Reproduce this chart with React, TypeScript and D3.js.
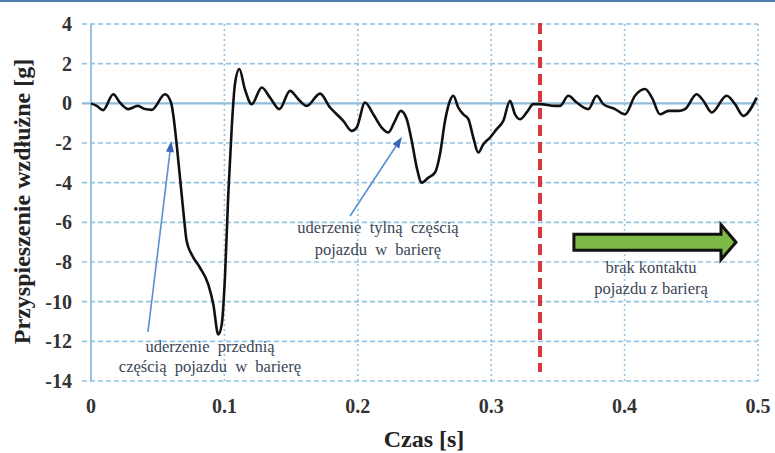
import React from "react";
import * as d3 from "d3";

const W = 775;
const H = 453;

// Curve: time [s]
const times = [
  0, 0.0043, 0.009, 0.0167, 0.0217, 0.028, 0.035, 0.0405, 0.0455, 0.0555, 0.06, 0.0617, 0.0642,
  0.0667, 0.0692, 0.0717, 0.0755, 0.0817, 0.0879, 0.0917, 0.0954, 0.098, 0.1004, 0.1029, 0.1055,
  0.1079, 0.1112, 0.1154, 0.1205, 0.128, 0.1342, 0.1412, 0.1492, 0.1554, 0.1617, 0.1717, 0.1792,
  0.1842, 0.1891, 0.1954, 0.1992, 0.2054, 0.2116, 0.2179, 0.2229, 0.2279, 0.2322, 0.2367, 0.2404,
  0.2442, 0.2479, 0.2528, 0.2579, 0.2616, 0.2654, 0.2691, 0.2716, 0.2753, 0.2791, 0.2829, 0.2866,
  0.2903, 0.2941, 0.2991, 0.3041, 0.3091, 0.3141, 0.3178, 0.3216, 0.3266, 0.3316, 0.3366, 0.3478,
  0.3516, 0.3578, 0.3641, 0.3728, 0.3791, 0.384, 0.3928, 0.4003, 0.4078, 0.4153, 0.4205, 0.4265,
  0.4328, 0.4403, 0.4453, 0.454, 0.459, 0.4653, 0.4765, 0.4828, 0.489, 0.499,
];
// Curve: longitudinal acceleration [g]
const accel = [
  0, -0.13, -0.34, 0.46, 0.04, -0.29, -0.13, -0.29, -0.33, 0.46, 0.04, -0.6, -2.06,
  -3.75, -5.43, -6.94, -7.62, -8.29, -9.13, -10.14, -11.65, -11.15, -8.8, -4.59, -1.22,
  0.97, 1.73, 0.7, -0.04, 0.8, 0.29, -0.29, 0.63, 0.21, -0.13, 0.49, -0.21,
  -0.55, -0.88, -1.39, -1.22, 0.04, -0.55, -1.22, -1.47, -0.88, -0.38, -0.8, -1.89,
  -3.24, -4.0, -3.75, -3.49, -2.57, -0.88, 0.13, 0.38, -0.21, -0.55, -0.8, -1.73,
  -2.48, -2.06, -1.73, -1.3, -0.88, 0.13, -0.55, -0.8, -0.46, -0.04, -0.04, -0.13,
  -0.13, 0.38, 0.04, -0.29, 0.38, -0.04, -0.29, -0.55, 0.38, 0.72, 0.29, -0.55,
  -0.38, -0.38, -0.29, 0.46, 0.13, -0.46, 0.38, -0.04, -0.63, 0.29,
];

const xTicks = [0, 0.1, 0.2, 0.3, 0.4, 0.5];
const yTicks = [4, 2, 0, -2, -4, -6, -8, -10, -12, -14];

const contactEnd = 0.3366; // red dashed line

// annotation texts: [center t, baseline g, text]
const noteFront = ["uderzenie  przednią", "częścią  pojazdu  w  barierę"];
const noteRear = ["uderzenie  tylną  częścią", "pojazdu  w  barierę"];
const noteNone = ["brak kontaktu", "pojazdu z barierą"];
const noteFrontPos = [0.0892, -12.54, -13.55];
const noteRearPos = [0.2151, -6.54, -7.65];
const noteNonePos = [0.4198, -8.56, -9.62];
// blue arrows: [t0, g0, t1, g1]
const arrowFront = [0.0427, -11.53, 0.0602, -1.9];
const arrowRear = [0.1942, -5.68, 0.2331, -1.7];
// green arrow: [t0, t1, g]
const greenArrow = [0.362, 0.4835, -7];

export default function App() {
  const x = d3.scaleLinear().domain([0, 0.5]).range([91, 758]);
  const y = d3.scaleLinear().domain([-14, 4]).range([381, 24]);

  const pts: [number, number][] = times.map((t, i) => [t, accel[i]]);
  const line = d3
    .line<[number, number]>()
    .x((d) => x(d[0]))
    .y((d) => y(d[1]))
    .curve(d3.curveMonotoneX);

  const gridColor = "#93c5e3";
  const serif = "'Liberation Serif', 'Times New Roman', serif";
  const noteColor = "#3a4656";

  const blueArrow = (a: number[], key: string) => {
    const x0 = x(a[0]), y0 = y(a[1]), x1 = x(a[2]), y1 = y(a[3]);
    const ang = Math.atan2(y1 - y0, x1 - x0);
    const L = 11, hw = 4;
    const bx = x1 - L * Math.cos(ang), by = y1 - L * Math.sin(ang);
    const px = -Math.sin(ang) * hw, py = Math.cos(ang) * hw;
    return (
      <g key={key}>
        <line x1={x0} y1={y0} x2={bx} y2={by} stroke="#5a8fd0" strokeWidth={1.6} />
        <polygon
          points={`${x1},${y1} ${bx + px},${by + py} ${bx - px},${by - py}`}
          fill="#3d63b8"
        />
      </g>
    );
  };

  const gx0 = x(greenArrow[0]), gx1 = x(greenArrow[1]), gy = y(greenArrow[2]);
  const headL = 15, shaftH = 8, headH = 17.5;
  const greenPts = [
    [gx0, gy - shaftH],
    [gx1 - headL, gy - shaftH],
    [gx1 - headL, gy - headH],
    [gx1, gy],
    [gx1 - headL, gy + headH],
    [gx1 - headL, gy + shaftH],
    [gx0, gy + shaftH],
  ]
    .map((p) => p.join(","))
    .join(" ");

  const note = (lines: string[], pos: number[], key: string) => (
    <g key={key}>
      {lines.map((s, i) => (
        <text
          key={i}
          x={x(pos[0])}
          y={y(pos[1 + i])}
          textAnchor="middle"
          fontFamily={serif}
          fontSize={16.5}
          fill={noteColor}
          style={{ whiteSpace: "pre" }}
        >
          {s}
        </text>
      ))}
    </g>
  );

  return (
    <svg
      width={W}
      height={H}
      style={{ position: "absolute", left: 0, top: 0, background: "#fff" }}
    >
      <rect x={0} y={0} width={W} height={H} fill="#fff" />
      <rect x={0} y={0} width={W} height={2} fill="#4d7cae" />

      {/* horizontal grid */}
      {yTicks
        .filter((v) => v !== 0)
        .map((v) => (
          <line
            key={"h" + v}
            x1={x(0) - 9}
            x2={x(0.5)}
            y1={y(v)}
            y2={y(v)}
            stroke={gridColor}
            strokeWidth={1.6}
            strokeDasharray="5 3"
          />
        ))}
      {/* vertical grid */}
      {xTicks
        .filter((v) => v !== 0)
        .map((v) => (
          <line
            key={"v" + v}
            x1={x(v)}
            x2={x(v)}
            y1={y(4)}
            y2={y(-14)}
            stroke={gridColor}
            strokeWidth={1.6}
            strokeDasharray="2 3"
          />
        ))}
      {/* axes */}
      <line x1={x(0)} x2={x(0)} y1={y(4)} y2={y(-14)} stroke="#8fbcdb" strokeWidth={1.8} />
      <line x1={x(0) - 9} x2={x(0.5)} y1={y(0)} y2={y(0)} stroke="#8fbcdb" strokeWidth={2.2} />

      {/* tick labels */}
      {yTicks.map((v) => (
        <text
          key={"yl" + v}
          x={72}
          y={y(v)}
          dy="0.35em"
          textAnchor="end"
          fontFamily={serif}
          fontWeight="bold"
          fontSize={20}
          fill="#333"
        >
          {v}
        </text>
      ))}
      {xTicks.map((v) => (
        <text
          key={"xl" + v}
          x={x(v)}
          y={413}
          textAnchor="middle"
          fontFamily={serif}
          fontWeight="bold"
          fontSize={20}
          fill="#333"
        >
          {v === 0 ? "0" : v.toFixed(1)}
        </text>
      ))}

      {/* axis titles */}
      <text
        transform={`translate(30, ${(58 + 345) / 2}) rotate(-90)`}
        textAnchor="middle"
        fontFamily={serif}
        fontWeight="bold"
        fontSize={24}
        fill="#222"
      >
        Przyspieszenie wzdłużne [g]
      </text>
      <text
        x={424}
        y={447}
        textAnchor="middle"
        fontFamily={serif}
        fontWeight="bold"
        fontSize={24}
        fill="#222"
      >
        Czas [s]
      </text>

      {/* red dashed line: end of contact */}
      <line
        x1={x(contactEnd)}
        x2={x(contactEnd)}
        y1={y(4) - 1}
        y2={y(-13.55)}
        stroke="#d8383c"
        strokeWidth={4}
        strokeDasharray="11 6"
      />

      {/* curve */}
      <path d={line(pts) || ""} fill="none" stroke="#111" strokeWidth={2.6} strokeLinejoin="round" />

      {/* annotations */}
      {blueArrow(arrowFront, "a1")}
      {blueArrow(arrowRear, "a2")}
      {note(noteFront, noteFrontPos, "n1")}
      {note(noteRear, noteRearPos, "n2")}
      {note(noteNone, noteNonePos, "n3")}
      <polygon points={greenPts} fill="#7dba45" stroke="#111" strokeWidth={3} strokeLinejoin="miter" />
    </svg>
  );
}
